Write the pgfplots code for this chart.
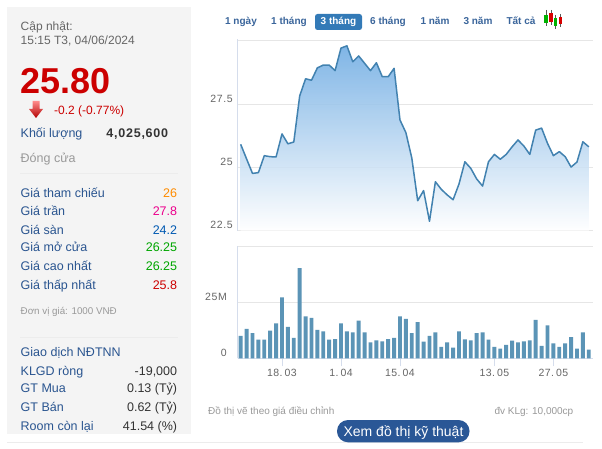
\documentclass[border=0pt]{standalone}
\usepackage{pgfplots}
\usepackage{pgfplotstable}
\pgfplotsset{compat=1.18}
\usepackage{fontspec}
\setmainfont{Liberation Sans}
\newfontfamily\spaced[LetterSpace=6]{Liberation Sans}
\newfontfamily\spacedb[LetterSpace=4]{Liberation Sans}
\definecolor{lab}{HTML}{2A5590}
\definecolor{tabc}{HTML}{3A659B}
\definecolor{gry}{HTML}{999999}
\definecolor{dark}{HTML}{333333}
\definecolor{panel}{HTML}{F4F4F4}
\definecolor{hr}{HTML}{ECECEC}
\definecolor{axl}{HTML}{D5DDEC}
\definecolor{gridc}{HTML}{E6E6E6}
\definecolor{tickt}{HTML}{666666}
\definecolor{linec}{HTML}{4282B0}
\definecolor{barc}{HTML}{5B94B6}
\definecolor{fillc}{HTML}{6AA9E2}
\definecolor{rd}{HTML}{CC0000}
\pgfplotstableread{
i p v
0 25.91 9.97
1 25.33 13.1
2 24.76 11.2
3 24.79 8.3
4 25.46 8.3
5 25.42 12.4
6 25.41 15.6
7 26.32 27.2
8 25.93 14.0
9 26.00 9.1
10 27.82 40.2
11 28.50 18.75
12 28.44 18.0
13 28.93 12.65
14 29.04 12.0
15 29.04 8.3
16 28.82 8.6
17 29.71 15.6
18 29.80 12.0
19 29.17 11.6
20 29.40 16.8
21 29.11 11.6
22 28.82 7.1
23 29.13 8.0
24 28.58 7.6
25 28.58 8.6
26 28.91 9.1
27 26.87 18.75
28 26.37 17.6
29 25.37 11.2
30 23.68 16.1
31 24.08 7.4
32 22.87 10.0
33 24.43 11.6
34 24.13 5.1
35 23.91 7.1
36 23.72 4.8
37 24.34 12.0
38 25.22 8.5
39 24.96 8.0
40 24.54 11.2
41 24.26 11.6
42 25.22 8.3
43 25.51 5.1
44 25.32 4.3
45 25.51 6.0
46 25.81 7.9
47 26.08 7.1
48 25.84 7.6
49 25.51 8.0
50 26.47 17.1
51 26.55 5.5
52 25.95 14.7
53 25.46 6.7
54 25.62 5.1
55 25.42 6.7
56 25.01 9.5
57 25.21 4.3
58 26.01 11.6
59 25.81 3.9
}\datatable
% text helpers: x, baseline y, size, colour, text
\newcommand\TL[5]{\node[anchor=base west,inner sep=0pt,text=#4,font=\fontsize{#3}{#3}\selectfont] at (#1,#2) {#5};}
\newcommand\TR[5]{\node[anchor=base east,inner sep=0pt,text=#4,font=\fontsize{#3}{#3}\selectfont] at (#1,#2) {#5};}
\newcommand\TC[5]{\node[anchor=base,inner sep=0pt,text=#4,font=\fontsize{#3}{#3}\selectfont] at (#1,#2) {#5};}
\begin{document}
\begin{tikzpicture}[x=1pt,y=-1pt]
\useasboundingbox (0,0) rectangle (602,449);
\fill[white] (0,0) rectangle (602,449);
% left panel
\fill[panel] (7,7) rectangle (191,434);
\draw[hr,line width=0.8pt] (7,442.5) -- (583,442.5);
\TL{20.5}{31}{12}{tickt}{Cập nhật:}
\TL{20.5}{44.3}{12}{tickt}{15:15 T3, 04/06/2024}
\TL{20}{93.3}{36}{rd}{\bfseries 25.80}
\shade[top color=red!45!white,bottom color=red!70!black]
  (32.5,101) -- (39.5,101) -- (39.5,109) -- (43,109) -- (36,118) -- (29,109) -- (32.5,109) -- cycle;
\TL{54}{115}{12}{rd}{-0.2 (-0.77\%)}
\TL{20.5}{138}{12.5}{lab}{Khối lượng}
\TR{168.3}{138}{12.5}{dark}{\bfseries\spaced 4,025,600}
\TL{20.5}{162.3}{12.5}{gry}{Đóng cửa}
\draw[hr,line width=0.8pt] (20,173.3) -- (178,173.3);
\TL{20.5}{197.3}{12.5}{lab}{Giá tham chiếu}
\TR{177.3}{197.3}{12.5}{orange!90!yellow}{26}
\TL{20.5}{215}{12.5}{lab}{Giá trần}
\TR{177.3}{215}{12.5}{magenta}{27.8}
\TL{20.5}{234}{12.5}{lab}{Giá sàn}
\TR{177.3}{234}{12.5}{blue!50!cyan!70!black}{24.2}
\TL{20.5}{251.7}{12.5}{lab}{Giá mở cửa}
\TR{177.3}{251.7}{12.5}{green!65!black}{26.25}
\TL{20.5}{270.7}{12.5}{lab}{Giá cao nhất}
\TR{177.3}{270.7}{12.5}{green!65!black}{26.25}
\TL{20.5}{289}{12.5}{lab}{Giá thấp nhất}
\TR{177.3}{289}{12.5}{rd}{25.8}
\TL{20.5}{314.3}{9.8}{gry}{Đơn vị giá: 1000 VNĐ}
\draw[hr,line width=0.8pt] (20,337.3) -- (178,337.3);
\TL{20.5}{356}{12.5}{lab}{Giao dịch NĐTNN}
\TL{20.5}{375}{12.5}{lab}{KLGD ròng}
\TR{177.3}{375}{12.5}{dark}{-19,000}
\TL{20.5}{392.7}{12.5}{lab}{GT Mua}
\TR{177.3}{392.7}{12.5}{dark}{0.13 (Tỷ)}
\TL{20.5}{411}{12.5}{lab}{GT Bán}
\TR{177.3}{411}{12.5}{dark}{0.62 (Tỷ)}
\TL{20.5}{430}{12.5}{lab}{Room còn lại}
\TR{177.3}{430}{12.5}{dark}{41.54 (\%)}
% tabs
\fill[rounded corners=2.5pt,fill={rgb,255:red,51;green,122;blue,183}] (315,14) rectangle (362,30);
\TC{241}{25}{10}{tabc}{\bfseries 1 ngày}
\TC{289}{25}{10}{tabc}{\bfseries 1 tháng}
\TC{338.5}{25}{10}{white}{\bfseries 3 tháng}
\TC{388}{25}{10}{tabc}{\bfseries 6 tháng}
\TC{435}{25}{10}{tabc}{\bfseries 1 năm}
\TC{478}{25}{10}{tabc}{\bfseries 3 năm}
\TC{521}{25}{10}{tabc}{\bfseries Tất cả}
% candle icon
\foreach \cx/\a/\b/\c/\d/\col in {546/10/15/23/26/green!70!black,551/10/13/22/25/red!85!black,555.3/15/18/26/29/green!70!black,560.3/14/17/24/27/red!85!black}{
  \draw[gray!70!black,line width=0.7pt] (\cx,\a) -- (\cx,\d);
  \fill[\col] (\cx-1.6,\b) rectangle (\cx+1.6,\c);
}
% price axis
\begin{axis}[at={(237.5pt,-230.6pt)},anchor=south west,scale only axis,width=355pt,height=191.1pt,
  xmin=-0.54,xmax=59.63,ymin=22.5,ymax=30.05,clip=true,
  axis x line=bottom,axis y line=left,
  x axis line style={-,draw=gridc,line width=0.9pt},
  y axis line style={-,draw=axl,line width=0.9pt},
  xtick=\empty,
  ytick={22.5,25,27.5,30},yticklabels={22.5,25,27.5,},
  ymajorgrids,grid style={gridc,line width=0.8pt},
  ytick style={draw=none},
  yticklabel style={text=tickt,font=\fontsize{10.5}{10.5}\selectfont\spaced,anchor=east,yshift=5.3pt,xshift=-2.5pt,inner sep=0pt},
]
\addplot[draw=none,top color=fillc,bottom color=white,fill opacity=0.85,forget plot] table[x=i,y=p] {\datatable} \closedcycle;
\addplot[color=linec,line width=1.5pt,mark=none,line join=round] table[x=i,y=p] {\datatable};
\end{axis}
% volume axis
\begin{axis}[at={(237.5pt,-358.3pt)},anchor=south west,scale only axis,width=355pt,height=112.8pt,
  xmin=-0.54,xmax=59.63,ymin=0,ymax=50.35,
  axis x line=bottom,axis y line=left,
  x axis line style={-,draw=axl,line width=0.9pt},
  y axis line style={-,draw=axl,line width=0.9pt},
  xtick={7,17,27,43,53},xticklabels={18.\hspace{2pt}03,1.\hspace{2pt}04,15.\hspace{2pt}04,13.\hspace{2pt}05,27.\hspace{2pt}05},
  xtick style={draw=axl,line width=0.9pt},
  tick align=outside,major tick length=8pt,
  xticklabel style={text=tickt,font=\fontsize{10.5}{10.5}\selectfont\spacedb,inner sep=0pt,yshift=-2pt,text height=8pt,text depth=0pt},
  ytick={0,25,50},yticklabels={0,25M,},
  ymajorgrids,grid style={gridc,line width=0.8pt},
  ytick style={draw=none},
  yticklabel style={text=tickt,font=\fontsize{10.5}{10.5}\selectfont\spaced,anchor=east,yshift=5.3pt,xshift=-2.5pt,inner sep=0pt},
]
\addplot[ybar,bar width=3.9pt,bar shift=0pt,fill=barc,draw=none] table[x=i,y=v] {\datatable};
\end{axis}
% footer
\TL{208}{414}{10}{gry}{Đồ thị vẽ theo giá điều chỉnh}
\TR{573.5}{414}{10}{gry}{đv KLg: 10,000cp}
\fill[rounded corners=11pt,fill={rgb,255:red,42;green,87;blue,150}] (337,420) rectangle (469.5,442.3);
\TC{403.5}{436}{14}{white}{Xem đồ thị kỹ thuật}
\end{tikzpicture}
\end{document}
